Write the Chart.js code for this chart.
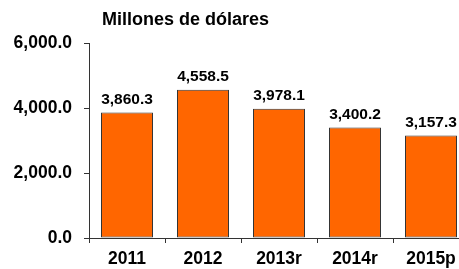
<!DOCTYPE html>
<html>
<head>
<meta charset="utf-8">
<script src="https://cdn.jsdelivr.net/npm/chart.js@4.4.1/dist/chart.umd.min.js"></script>
<style>
    html, body { margin: 0; padding: 0; background: #ffffff; overflow: hidden; }
    #wrap { width: 470px; height: 269px; }
</style>
</head>
<body>
<div id="wrap"><canvas id="inversion" width="470" height="269"></canvas></div>
<script>
// data
var years = ['2011', '2012', '2013r', '2014r', '2015p'];
var amounts = [3860.3, 4558.5, 3978.1, 3400.2, 3157.3];
var yTicks = [0, 2000, 4000, 6000];
var chartTitle = 'Millones de dólares';

var fontFamily = '"Liberation Sans", Arial, sans-serif';

// value above each bar, e.g. 3,860.3
function formatValue(v) {
    return v.toLocaleString('en-US', { minimumFractionDigits: 1, maximumFractionDigits: 1 });
}

var labelsPlugin = {
    id: 'barLabels',
    afterDatasetsDraw: function (chart) {
        var ctx = chart.ctx;
        var meta = chart.getDatasetMeta(0);
        ctx.save();
        ctx.fillStyle = '#000000';
        ctx.font = 'bold 15.5px ' + fontFamily;
        ctx.textAlign = 'center';
        ctx.textBaseline = 'alphabetic';
        meta.data.forEach(function (bar, i) {
            ctx.fillText(formatValue(amounts[i]), bar.x, bar.y - 8.5);
        });
        // title sits left, not centered
        ctx.font = 'bold 18px ' + fontFamily;
        ctx.textAlign = 'left';
        ctx.fillText(chartTitle, 102, 25);
        ctx.restore();
    }
};

var ctx = document.getElementById('inversion').getContext('2d');

var barChart = new Chart(ctx, {
    type: 'bar',
    data: {
        labels: years,
        datasets: [
            {
                data: amounts,
                backgroundColor: '#FF6600',
                borderColor: '#333333',
                borderWidth: 1,
                borderSkipped: false,
                categoryPercentage: 1.0,
                barPercentage: 0.684
            }
        ]
    },
    options: {
        responsive: false,
        animation: false,
        layout: { padding: { top: 43, right: 1, bottom: 0, left: 0 } },
        plugins: {
            legend: { display: false },
            title: { display: false },
            tooltip: { enabled: false }
        },
        scales: {
            x: {
                grid: {
                    offset: true,
                    drawOnChartArea: false,
                    drawTicks: true,
                    tickLength: 5,
                    color: '#333333'
                },
                border: { display: true, color: '#333333', width: 1 },
                ticks: {
                    color: '#000000',
                    padding: 6,
                    maxRotation: 0,
                    font: { family: fontFamily, size: 17.5, weight: 'bold' }
                },
                afterFit: function (scale) { scale.height = 31; }
            },
            y: {
                min: 0,
                max: 6000,
                afterBuildTicks: function (scale) {
                    scale.ticks = yTicks.map(function (v) { return { value: v }; });
                },
                grid: {
                    drawOnChartArea: false,
                    drawTicks: true,
                    tickLength: 5,
                    color: '#333333'
                },
                border: { display: true, color: '#333333', width: 1 },
                ticks: {
                    color: '#000000',
                    padding: 12,
                    font: { family: fontFamily, size: 17.5, weight: 'bold' },
                    callback: function (v) { return formatValue(v); }
                },
                afterFit: function (scale) { scale.width = 89; }
            }
        }
    },
    plugins: [labelsPlugin]
});
</script>
</body>
</html>
